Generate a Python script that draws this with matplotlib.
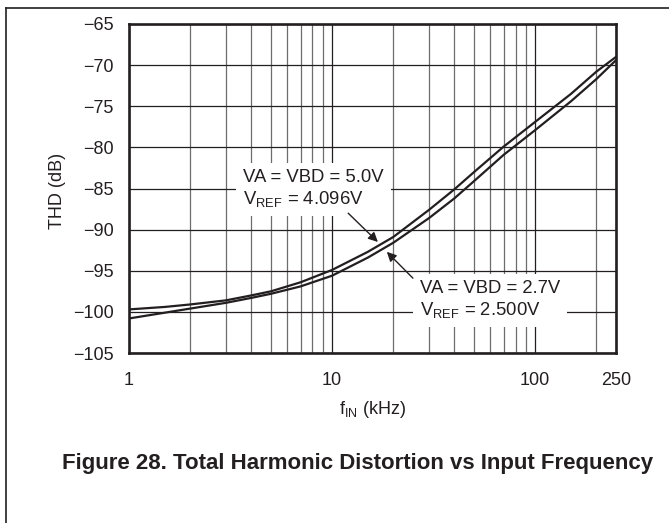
import numpy as np
import matplotlib.pyplot as plt
from matplotlib.lines import Line2D
from matplotlib.ticker import FixedLocator, NullFormatter

plt.rcParams['font.family'] = ['Liberation Sans', 'DejaVu Sans']
plt.rcParams['mathtext.default'] = 'regular'

# Input frequency (kHz) and THD (dB)
freq_khz = [1, 1.5, 2, 3, 4, 5, 7, 10, 15, 20, 30, 40, 50, 70, 100, 150, 200, 250]
thd_5v0 = [-99.7, -99.4, -99.1, -98.6, -98.0, -97.5, -96.4, -94.9, -92.7, -90.9,
           -87.6, -85.1, -83.0, -79.9, -76.9, -73.5, -70.8, -69.0]
thd_2v7 = [-100.8, -100.1, -99.6, -98.9, -98.3, -97.8, -96.9, -95.6, -93.4, -91.6,
           -88.6, -86.2, -84.1, -80.9, -77.9, -74.4, -71.7, -69.4]

x_ticks = [1, 10, 100, 250]
x_minor = [2, 3, 4, 5, 6, 7, 8, 9, 20, 30, 40, 50, 60, 70, 80, 90, 200]
y_ticks = [-105, -100, -95, -90, -85, -80, -75, -70, -65]

label_5v0 = 'VA = VBD = 5.0V\nV$_{REF}$ = 4.096V'
label_2v7 = 'VA = VBD = 2.7V\nV$_{REF}$ = 2.500V'

W, H = 669, 523
fig = plt.figure(figsize=(W / 100, H / 100), dpi=100)
ax = fig.add_axes([129 / W, 1 - 353 / H, (616 - 129) / W, (353 - 24) / H])

ax.set_xscale('log')
ax.set_xlim(1, 250)
ax.set_ylim(-105, -65)

ax.xaxis.set_major_locator(FixedLocator(x_ticks))
ax.xaxis.set_minor_locator(FixedLocator(x_minor))
ax.xaxis.set_minor_formatter(NullFormatter())
ax.set_xticklabels([str(t) for t in x_ticks])
ax.set_yticks(y_ticks)
ax.tick_params(which='both', length=0, labelsize=13, colors='#231f20')
ax.tick_params(axis='y', pad=11)
ax.tick_params(axis='x', pad=14)

# grid: decades and dB lines dark, sub-decade lines grey
ax.grid(True, which='major', axis='both', color='#231f20', linewidth=0.9)
ax.grid(True, which='minor', axis='x', color='#6d6d6d', linewidth=0.9)
ax.set_axisbelow(True)

for s in ax.spines.values():
    s.set_linewidth(1.9)
    s.set_color('#231f20')

ax.plot(freq_khz, thd_5v0, color='#231f20', linewidth=1.6, zorder=3)
ax.plot(freq_khz, thd_2v7, color='#231f20', linewidth=1.6, zorder=3)

box = dict(facecolor='white', edgecolor='none', pad=5)
ax.text(3.64, -85.1, label_5v0, fontsize=13.3, color='#231f20', ha='left', va='center',
        bbox=box, zorder=4)
ax.text(27.1, -98.6, label_2v7, fontsize=13.3, color='#231f20', ha='left', va='center',
        bbox=box, zorder=4)

arrow = dict(arrowstyle='-|>', color='#231f20', lw=1.0, mutation_scale=14, shrinkA=0, shrinkB=0)
ax.annotate('', xy=(16.8, -91.5), xytext=(12.0, -88.0), arrowprops=arrow, zorder=5)
ax.annotate('', xy=(18.6, -92.7), xytext=(25.0, -95.9), arrowprops=arrow, zorder=5)

fig.text(372.5 / W, 1 - 410 / H, 'f$_{IN}$ (kHz)', fontsize=13, color='#231f20',
         ha='center', va='center')
fig.text(58 / W, 1 - 191 / H, 'THD (dB)', fontsize=13, color='#231f20',
         ha='center', va='center', rotation=90)
fig.text(358 / W, 1 - 463 / H, 'Figure 28. Total Harmonic Distortion vs Input Frequency',
         fontsize=16, fontweight='bold', color='#231f20', ha='center', va='center')

# page frame lines (left and top)
fig.add_artist(Line2D([6 / W, 6 / W], [0, 1 - 8 / H], color='#231f20', linewidth=1.2))
fig.add_artist(Line2D([6 / W, 1], [1 - 8 / H, 1 - 8 / H], color='#231f20', linewidth=1.2))

fig.savefig('out.png', dpi=100)
